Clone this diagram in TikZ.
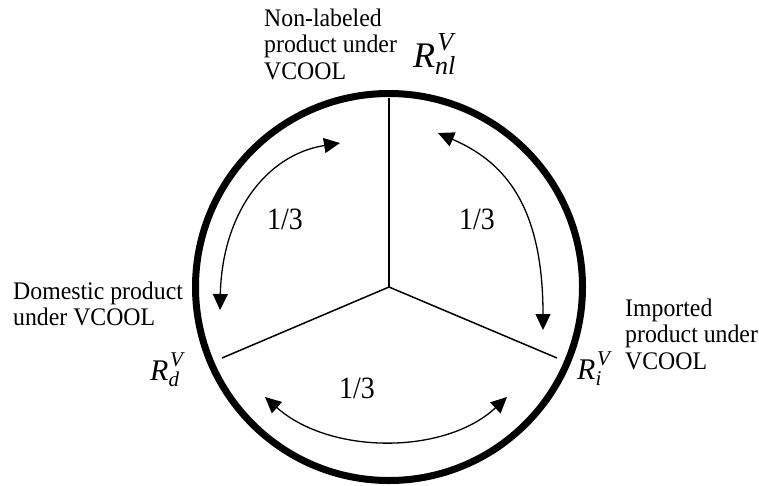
\documentclass[tikz,border=0pt]{standalone}
\usepackage{fontspec}
\setmainfont{Liberation Serif}
\newfontfamily\fracfont[FakeStretch=0.9]{Liberation Serif}
\newfontfamily\labfont[FakeStretch=0.94]{Liberation Serif}
\usetikzlibrary{arrows.meta}
\newcommand{\RVlab}[5]{% #1 R size, #2 script size, #3 sup raise, #4 sub lower, #5 subscript
{\fontsize{#1}{#1}\selectfont\itshape R}{\fontsize{#2}{#2}\selectfont\itshape\rlap{\raisebox{#3}{\kern0.08em V}}\raisebox{-#4}{#5}}}
\newcommand{\lines}[1]{\begin{tabular}[t]{@{}l@{}}#1\end{tabular}}
\begin{document}
\begin{tikzpicture}[x=1pt,y=-1pt]
\tikzset{
  rim/.style={line width=7pt},
  spoke/.style={line width=1.5pt},
  share/.style={line width=1.3pt,{Triangle[length=16pt,width=15pt]}-{Triangle[length=16pt,width=15pt]}},
  txt/.style={inner sep=0pt,anchor=base west,font=\labfont\fontsize{25.3}{26.5}\selectfont},
  frac/.style={inner sep=0pt,font=\fracfont\fontsize{31}{31}\selectfont},
  rlab/.style={inner sep=0pt,anchor=base west}
}
\useasboundingbox (0,0) rectangle (759,485);
\coordinate (O) at (389,287);
\draw[rim] (O) circle (193.5);
\coordinate (T) at (389,98);
\coordinate (L) at (222,358);
\coordinate (Rr) at (557,358);
\draw[spoke] (O) -- (T);
\draw[spoke] (O) -- (L);
\draw[spoke] (O) -- (Rr);
% arrows
\coordinate (a1s) at (220,310);
\coordinate (a1e) at (340,143);
\coordinate (a2s) at (438,133);
\coordinate (a2e) at (543,330);
\coordinate (a3s) at (265,397);
\coordinate (a3e) at (507,397);
\draw[share] (a1s) .. controls (222,215) and (265,155) .. (a1e);
\draw[share] (a2s) .. controls (500,160) and (543,200) .. (a2e);
\draw[share] (a3s) .. controls (330,455) and (445,455) .. (a3e);
% fractions
\node[frac] (f1) at (285,219) {1/3};
\node[frac] (f2) at (477,219) {1/3};
\node[frac] (f3) at (357,388) {1/3};
% labels
\node[txt] (nl) at (264,26) {\lines{Non-labeled\\product under\\VCOOL}};
\node[txt] (dom) at (13,299) {\lines{Domestic product\\under VCOOL}};
\node[txt] (imp) at (625,316) {\lines{Imported\\product under\\VCOOL}};
\node[rlab] (Rnl) at (413,67) {\RVlab{36}{26}{0.62em}{0.3em}{nl}};
\node[rlab] (Rd) at (150,380) {\RVlab{30}{21}{0.62em}{0.33em}{d}};
\node[rlab] (Ri) at (577,379) {\RVlab{30}{21}{0.62em}{0.33em}{i}};
\end{tikzpicture}
\end{document}
